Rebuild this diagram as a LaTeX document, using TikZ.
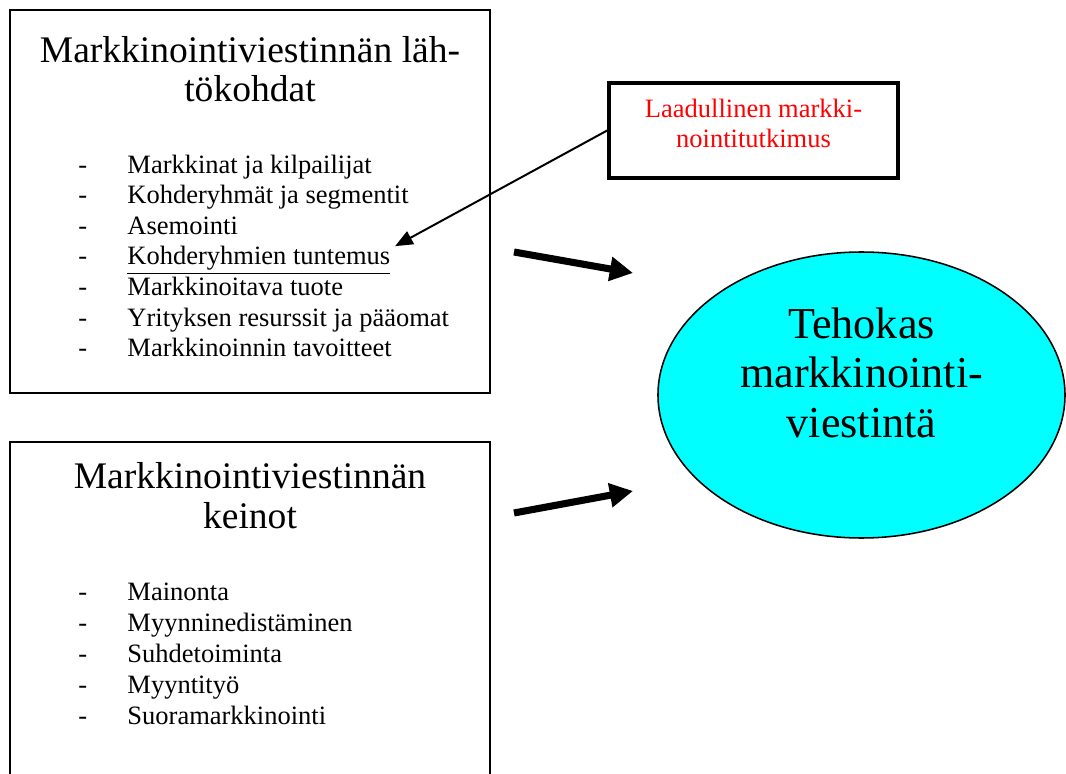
\documentclass[tikz,border=0pt]{standalone}
\usepackage{fontspec}
\setmainfont{Liberation Serif}
\usetikzlibrary{arrows.meta, shapes.geometric}

\definecolor{syaani}{RGB}{0,255,255}
\definecolor{punainen}{RGB}{255,0,0}
\newcommand{\viiva}[1]{\makebox[22.2pt][l]{-}#1}

\begin{document}
\begin{tikzpicture}[x=0.4528pt, y=-0.4528pt,
    box/.style={draw, line width=1pt, inner sep=0pt},
    title/.style={font=\fontsize{17}{18}\selectfont, align=center, anchor=base},
    item/.style={font=\fontsize{12}{14}\selectfont, anchor=base west, inner sep=0pt},
    bigarrow/.style={line width=3.2pt, -{Triangle[length=10.5pt, width=10.5pt]}},
    thinarrow/.style={line width=0.9pt, -{Triangle[length=8pt, width=6.5pt]}}]
  \useasboundingbox (0,0) rectangle (1066,774);
  \clip (0,0) rectangle (1066,774);

  % lahtokohdat
  \node[box, minimum width=217.3pt, minimum height=173.4pt] (lahtokohdat) at (250,201.5) {};
  \node[title] (lahtootsikko) at (250,102) {Markkinointiviestinnän läh-\\tökohdat};
  \node[item] (m1) at (78,174) {\viiva{Markkinat ja kilpailijat}};
  \node[item] (m2) at (78,204) {\viiva{Kohderyhmät ja segmentit}};
  \node[item] (m3) at (78,235) {\viiva{Asemointi}};
  \node[item] (m4) at (78,265) {\viiva{\underline{Kohderyhmien tuntemus}}};
  \node[item] (m5) at (78,296) {\viiva{Markkinoitava tuote}};
  \node[item] (m6) at (78,326) {\viiva{Yrityksen resurssit ja pääomat}};
  \node[item] (m7) at (78,357) {\viiva{Markkinoinnin tavoitteet}};

  % keinot
  \node[box, minimum width=217.3pt, minimum height=181.1pt] (keinot) at (250,642) {};
  \node[title] (keino-otsikko) at (250,528) {Markkinointiviestinnän\\keinot};
  \node[item] (k1) at (78,600) {\viiva{Mainonta}};
  \node[item] (k2) at (78,631) {\viiva{Myynninedistäminen}};
  \node[item] (k3) at (78,662) {\viiva{Suhdetoiminta}};
  \node[item] (k4) at (78,693) {\viiva{Myyntityö}};
  \node[item] (k5) at (78,724) {\viiva{Suoramarkkinointi}};

  % tutkimus
  \node[draw, line width=1.6pt, minimum width=130.9pt, minimum height=43pt, inner sep=0pt] (lahde) at (753.5,130.5) {};
  \node[font=\fontsize{12}{13.6}\selectfont, text=punainen, align=center, anchor=base] (lahdeteksti) at (753.5,148) {Laadullinen markki-\\nointitutkimus};
  \draw[thinarrow] (lahde.west) -- ([xshift=2pt]m4.north east);

  % tavoite
  \node[ellipse, draw, fill=syaani, line width=0.7pt, minimum width=184.3pt, minimum height=129.5pt, inner sep=0pt] (tehokas) at (861.5,395) {};
  \node[font=\fontsize{20}{22.2}\selectfont, align=center, anchor=base] (tehokasteksti) at (861.5,437) {Tehokas\\markkinointi-\\viestintä};

  \coordinate (n1a) at (514,252);
  \coordinate (n1b) at (633,273);
  \coordinate (n2a) at (514,513);
  \coordinate (n2b) at (633,491);
  \draw[bigarrow] (n1a) -- (n1b);
  \draw[bigarrow] (n2a) -- (n2b);
\end{tikzpicture}
\end{document}
